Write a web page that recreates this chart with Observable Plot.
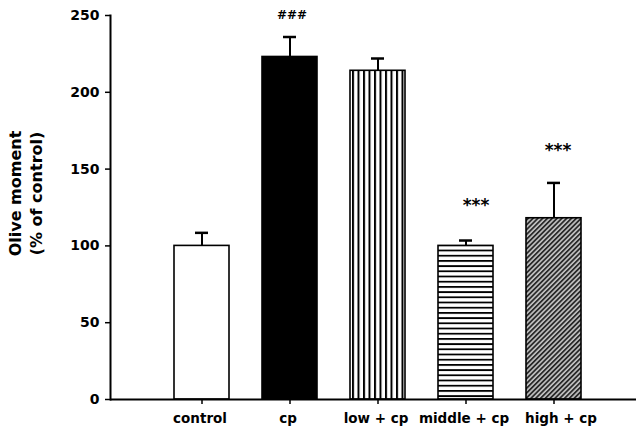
<!DOCTYPE html>
<html>
<head>
<meta charset="utf-8">
<script src="https://cdn.jsdelivr.net/npm/d3@7"></script>
<script src="https://cdn.jsdelivr.net/npm/@observablehq/plot@0.6"></script>
<style>
  html, body { margin: 0; padding: 0; background: #fff; }
  svg { font-family: "DejaVu Sans", sans-serif; }
</style>
</head>
<body>
<div id="chart"></div>
<script>
const categories = ["control", "cp", "low + cp", "middle + cp", "high + cp"];
const means = [100, 223, 214, 100, 118];
const errors = [8.5, 13, 8, 3.5, 23];
const marks = ["", "###", "", "***", "***"];
const markY = [null, 250, null, 126, 162];
const yTicks = [0, 50, 100, 150, 200, 250];
const yLabel = "Olive moment\n(% of control)";

const fills = ["white", "black", "url(#vstripe)", "url(#hstripe)", "url(#diag)"];

const data = categories.map((c, i) => ({
  cat: c, mean: means[i], err: errors[i], top: means[i] + errors[i],
  mark: marks[i], markY: markY[i], fill: fills[i]
}));

const labelStyle = {frameAnchor: "bottom", lineAnchor: "top", dy: 14, fontSize: 13.5, fontWeight: "bold"};

const chart = Plot.plot({
  width: 640,
  height: 439,
  marginLeft: 110,
  marginRight: 4,
  marginTop: 15,
  marginBottom: 40,
  style: {fontFamily: "DejaVu Sans, sans-serif", background: "white", color: "black"},
  x: {type: "band", domain: categories, range: [172.5, 582.5], paddingInner: 0.38, paddingOuter: 0, label: null},
  y: {domain: [0, 250], label: null},
  color: {type: "identity"},
  marks: [
    Plot.barY(data, {x: "cat", y: "mean", fill: "fill", stroke: "black", strokeWidth: 1.6}),
    Plot.ruleX(data, {x: "cat", y1: "mean", y2: "top", stroke: "black", strokeWidth: 2}),
    Plot.tickY(data, {x: "cat", y: "top", stroke: "black", strokeWidth: 2.5, insetLeft: 21, insetRight: 21}),
    Plot.text(data.filter(d => d.mark === "###"), {x: "cat", y: "markY", text: "mark", dx: 2, fontSize: 12, fontWeight: "bold"}),
    Plot.text(data.filter(d => d.cat === "middle + cp"), {x: "cat", y: "markY", text: "mark", dx: 10, fontSize: 17, fontWeight: "bold"}),
    Plot.text(data.filter(d => d.cat === "high + cp"), {x: "cat", y: "markY", text: "mark", dx: 4, fontSize: 17, fontWeight: "bold"}),
    Plot.axisY({ticks: yTicks, tickSize: 5, tickPadding: 6, fontSize: 14, fontWeight: "bold", strokeWidth: 1.5, label: null}),
    Plot.axisX({tickSize: 5, tickFormat: () => "", strokeWidth: 1.5, label: null}),
    Plot.text(data.filter(d => d.cat !== "high + cp"), {x: "cat", text: "cat", ...labelStyle, dx: -2}),
    Plot.text(data.filter(d => d.cat === "high + cp"), {x: "cat", text: "cat", ...labelStyle, dx: 7}),
    Plot.ruleY([0], {stroke: "black", strokeWidth: 2}),
    Plot.frame({anchor: "left", stroke: "black", strokeWidth: 2}),
    Plot.text([yLabel], {frameAnchor: "left", textAnchor: "middle", rotate: -90, dx: -86, dy: -14, text: d => d, fontSize: 16, fontWeight: "bold", lineHeight: 1.35})
  ]
});

const defs = d3.select(chart).insert("defs", ":first-child");
const v = defs.append("pattern").attr("id", "vstripe").attr("patternUnits", "userSpaceOnUse").attr("width", 5.5).attr("height", 10);
v.append("rect").attr("width", 5.5).attr("height", 10).attr("fill", "white");
v.append("rect").attr("x", 0).attr("width", 2).attr("height", 10).attr("fill", "black");
const h = defs.append("pattern").attr("id", "hstripe").attr("patternUnits", "userSpaceOnUse").attr("width", 10).attr("height", 5.2);
h.append("rect").attr("width", 10).attr("height", 5.2).attr("fill", "white");
h.append("rect").attr("y", 0).attr("width", 10).attr("height", 1.8).attr("fill", "black");
const g = defs.append("pattern").attr("id", "diag").attr("patternUnits", "userSpaceOnUse").attr("width", 3.4).attr("height", 10).attr("patternTransform", "rotate(45)");
g.append("rect").attr("width", 3.4).attr("height", 10).attr("fill", "#c4c4c4");
g.append("rect").attr("width", 1.8).attr("height", 10).attr("fill", "#2a2a2a");

document.getElementById("chart").appendChild(chart);
</script>
</body>
</html>
